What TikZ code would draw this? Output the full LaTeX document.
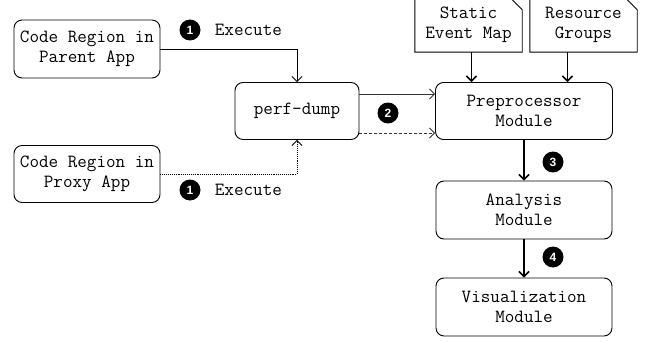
\documentclass[tikz,border=0pt]{standalone}
\usepackage{fontspec}
\newfontfamily\badgefont{Liberation Sans}
\usetikzlibrary{positioning,arrows.meta}

\begin{document}
\begin{tikzpicture}[x=1pt,y=1pt,
  box/.style={draw, rounded corners=8pt, line width=0.9pt, align=center,
    font=\ttfamily\fontsize{18.6}{20}\selectfont, inner sep=0pt},
  doc/.style={align=center, font=\ttfamily\fontsize{18.6}{20}\selectfont,
    inner sep=0pt, minimum width=107pt, minimum height=54pt},
  badge/.style={circle, fill=black, text=white, inner sep=0pt, minimum size=21pt,
    font=\badgefont\bfseries\fontsize{12}{12}\selectfont},
  lbl/.style={inner sep=0pt, font=\ttfamily\fontsize{18.6}{20}\selectfont},
  arr/.style={-{Straight Barb[length=5pt,width=10pt]}},
  ]

\useasboundingbox (0,0) rectangle (649,341);

% code regions
\node[box, minimum width=146pt, minimum height=58pt] (parent) at (87,292) {Code Region in\\Parent App};
\node[box, minimum width=146pt, minimum height=57pt] (proxy) at (87,167) {Code Region in\\Proxy App};

% perf-dump
\node[box, minimum width=124pt, minimum height=57pt] (perf) at (297,230) {perf-dump};

% modules
\node[box, minimum width=177pt, minimum height=57pt] (prep) at (524,230) {Preprocessor\\Module};
\node[box, minimum width=176pt, minimum height=58pt] (ana) at (524,131) {Analysis\\Module};
\node[box, minimum width=176pt, minimum height=58pt] (vis) at (524,34) {Visualization\\Module};

% input files
\node[doc] (static) at (468.5,316) {Static\\Event Map};
\node[doc] (res) at (583.5,316) {Resource\\Groups};
\foreach \d in {static,res}
  \draw[line width=0.9pt] (\d.north west) -- ([xshift=-12pt]\d.north east)
    -- ([yshift=-12pt]\d.north east) -- (\d.south east) -- (\d.south west) -- cycle;

%1. execute
\draw[arr, line width=0.9pt] (parent.east) -| (perf.north);
\draw[arr, line width=0.9pt, densely dotted] (proxy.east) -| (perf.south);
\node[badge] (b1a) at (190,311) {1};
\node[lbl, right=14pt of b1a] (ex1) {Execute};
\node[badge] (b1b) at (190,151) {1};
\node[lbl, right=14pt of b1b] (ex2) {Execute};

%2. dump to preprocessor
\draw[arr, line width=0.9pt, black!80] ([yshift=17pt]perf.east) -- ([yshift=17pt]prep.west);
\draw[arr, line width=0.9pt, black!80, densely dashed] ([yshift=-22pt]perf.east) -- ([yshift=-22pt]prep.west);
\node[badge] (b2) at (388,228) {2};

% files to preprocessor
\draw[arr, line width=1.6pt] ([xshift=3pt]static.south) -- ([xshift=3pt]static.south |- prep.north);
\draw[arr, line width=1.6pt] ([xshift=-16pt]res.south) -- ([xshift=-16pt]res.south |- prep.north);

%3. and 4.
\draw[arr, line width=1.6pt] (prep.south) -- (ana.north);
\node[badge] (b3) at (553,179) {3};
\draw[arr, line width=1.6pt] (ana.south) -- (vis.north);
\node[badge] (b4) at (553,84) {4};

\end{tikzpicture}
\end{document}
